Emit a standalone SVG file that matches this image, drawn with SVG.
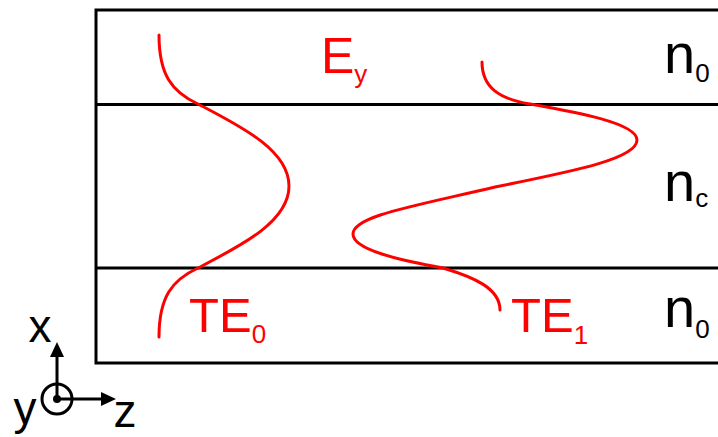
<svg xmlns="http://www.w3.org/2000/svg" width="718" height="437" viewBox="0 0 718 437">
<style>
.ln{stroke:#000;stroke-width:3;fill:none}
.mode{stroke:#ff0000;stroke-width:3;fill:none;stroke-linecap:round}
.lbl{font-family:"Liberation Sans",Arial,sans-serif;fill:#000}
.red{font-family:"Liberation Sans",Arial,sans-serif;fill:#ff0000}
</style>
<rect width="718" height="437" fill="#fff"/>
<g id="layers">
<path class="ln" d="M718,10 H96 V363 H718"/>
<line class="ln" x1="96" y1="104.5" x2="718" y2="104.5"/>
<line class="ln" x1="96" y1="268" x2="718" y2="268"/>
</g>
<g id="mode-TE0">
<path class="mode" d="M159,35 C159,75 172,92 198,104 C240,126 289,150 289,186 C289,222 240,246 198,268 C172,280 159,297 159,337"/>
</g>
<g id="mode-TE1">
<path class="mode" d="M482,62 C482,88 500,99 530,104 C575,112 637,123 637,140 C637,158 580,170 495,187 C415,206 353,216 353,234 C353,250 400,260 443,268 C473,277 500,288 500,310"/>
</g>
<g id="labels">
<text class="red" x="321" y="73" font-size="50">E<tspan font-size="26" dy="10">y</tspan></text>
<text class="red" x="189" y="332" font-size="49">TE<tspan font-size="26" dy="11">0</tspan></text>
<text class="red" x="511" y="332" font-size="49">TE<tspan font-size="26" dy="12">1</tspan></text>
<text class="lbl" x="664" y="73" font-size="56">n<tspan font-size="26" dy="9">0</tspan></text>
<text class="lbl" x="664" y="201" font-size="56">n<tspan font-size="26" dy="6">c</tspan></text>
<text class="lbl" x="664" y="327" font-size="56">n<tspan font-size="26" dy="11">0</tspan></text>
</g>
<g id="axes">
<circle cx="57" cy="399" r="15" fill="none" stroke="#000" stroke-width="3"/>
<circle cx="57" cy="399" r="4" fill="#000"/>
<line class="ln" x1="57" y1="399" x2="57" y2="355"/>
<polygon points="57,342 50,357 64,357" fill="#000"/>
<line class="ln" x1="57" y1="399" x2="102" y2="399"/>
<polygon points="116,399 101,392 101,406" fill="#000"/>
<text class="lbl" x="40" y="342" font-size="46" text-anchor="middle">x</text>
<text class="lbl" x="25" y="424" font-size="46" text-anchor="middle">y</text>
<text class="lbl" x="125" y="427" font-size="46" text-anchor="middle">z</text>
</g>
</svg>
